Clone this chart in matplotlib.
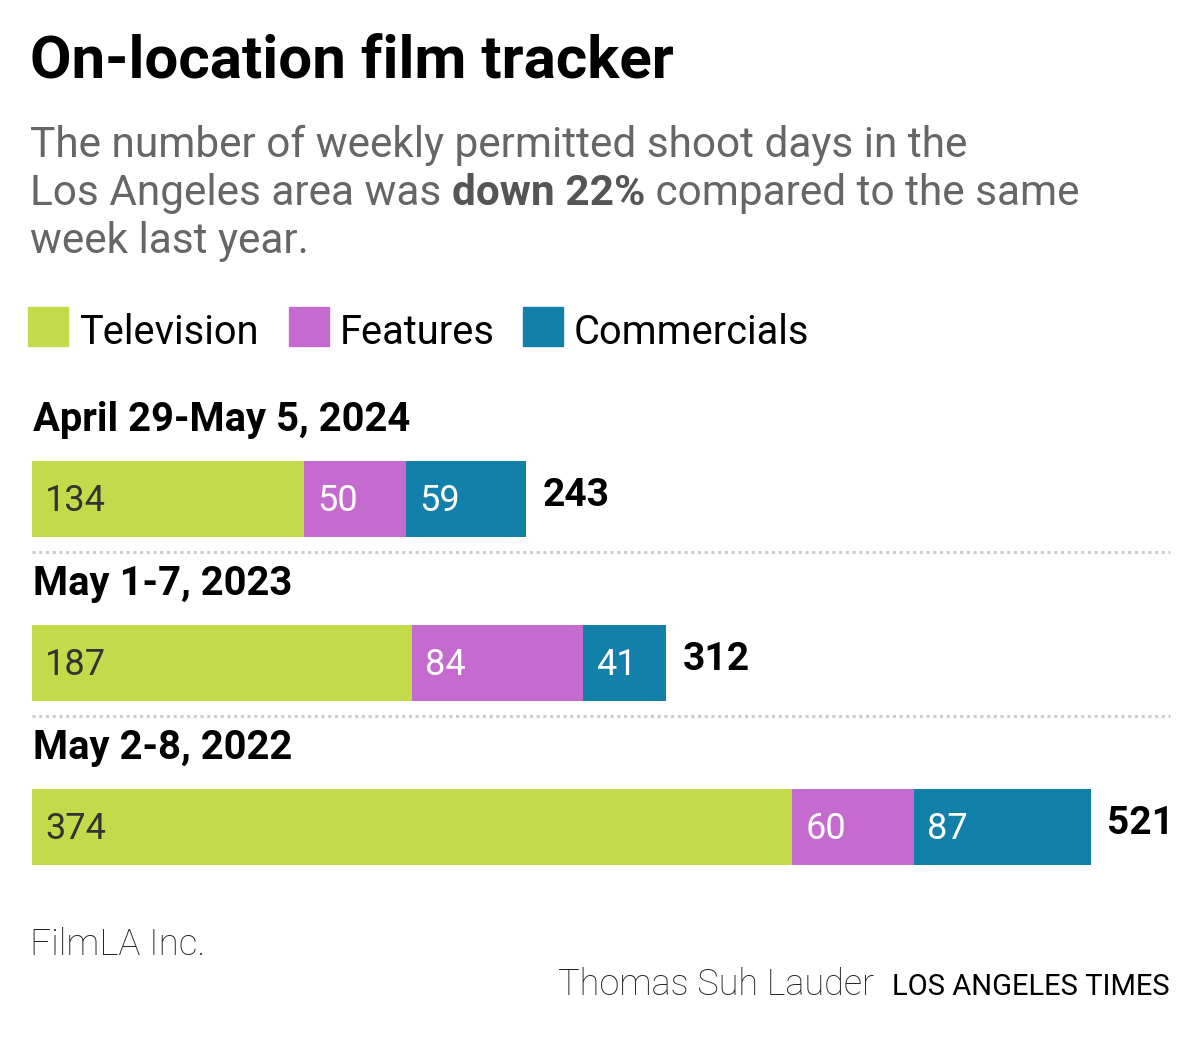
import matplotlib
matplotlib.use("Agg")
import matplotlib.pyplot as plt
from matplotlib import font_manager
from matplotlib.patches import Rectangle

# data
weeks = ["April 29-May 5, 2024", "May 1-7, 2023", "May 2-8, 2022"]
television = [134, 187, 374]
features = [50, 84, 60]
commercials = [59, 41, 87]
totals = [243, 312, 521]

series_names = ["Television", "Features", "Commercials"]
colors = ["#c3db4b", "#c56acf", "#1380aa"]
label_colors = ["#333333", "white", "white"]

W, H = 1200, 1037

names = {f.name for f in font_manager.fontManager.ttflist}
FONT = "Liberation Sans Narrow" if "Liberation Sans Narrow" in names else "Roboto"
plt.rcParams["font.family"] = [FONT, "DejaVu Sans"]

fig = plt.figure(figsize=(W / 100, H / 100), dpi=100)


def fx(px):
    return px / W


def fy(py):
    return 1 - py / H


# header
fig.text(fx(30), fy(77), "On-location film tracker", fontsize=43.3, fontweight="bold",
         color="black", va="baseline")
SUB = 30.5
fig.text(fx(30), fy(157), "The number of weekly permitted shoot days in the",
         fontsize=SUB, color="#666666", va="baseline")
t1 = fig.text(fx(30), fy(205), "Los Angeles area was ", fontsize=SUB, color="#666666",
              va="baseline")
fig.canvas.draw()
r = fig.canvas.get_renderer()
bb = t1.get_window_extent(r)
t2 = fig.text(bb.x1 / W, fy(205), "down 22%", fontsize=SUB, color="#555555",
              fontweight="bold", va="baseline")
bb2 = t2.get_window_extent(r)
fig.text(bb2.x1 / W, fy(205), " compared to the same", fontsize=SUB, color="#666666",
         va="baseline")
fig.text(fx(30), fy(253), "week last year.", fontsize=SUB, color="#666666", va="baseline")

# legend
leg_x = [28, 289, 523]
for lx, name, c in zip(leg_x, series_names, colors):
    fig.patches.append(Rectangle((fx(lx), fy(346)), 40 / W, 39 / H, color=c,
                                 transform=fig.transFigure, figure=fig))
    fig.text(fx(lx + 51), fy(344), name, fontsize=28.7, color="black", va="baseline")

# bars
ax = fig.add_axes([fx(32), fy(909), fx(1091) - fx(32), (909 - 368) / H])
ax.set_xlim(0, 521)
ax.set_ylim(2.5, -0.8)
ax.axis("off")

ys = list(range(len(weeks)))
lefts = [0] * len(weeks)
for vals, c, tc in zip([television, features, commercials], colors, label_colors):
    ax.barh(ys, vals, left=lefts, height=0.465, color=c, linewidth=0)
    for y, v, l in zip(ys, vals, lefts):
        ax.text(l + 6.5, y + 0.01, str(v), fontsize=26, color=tc, va="center", ha="left")
    lefts = [a + b for a, b in zip(lefts, vals)]

for y, t in zip(ys, totals):
    ax.text(t + 8, y - 0.02, str(t), fontsize=28, fontweight="bold", color="black",
            va="center", ha="left", clip_on=False)

for y, w in zip(ys, weeks):
    ax.text(0.5, y - 0.48, w, fontsize=28.8, fontweight="bold", color="black",
            va="center", ha="left")

for y in ys[:-1]:
    ax.plot([0, 560], [y + 0.32, y + 0.32], color="#cccccc", linestyle=(0, (1, 1.2)),
            linewidth=2.2, clip_on=False)

# footer
fig.text(fx(30), fy(955), "FilmLA Inc.", fontsize=26.5, color="#222222", va="baseline",
         fontweight="light")
t3 = fig.text(fx(1170), fy(995), "LOS ANGELES TIMES", fontsize=21, color="black",
              va="baseline", ha="right")
bb3 = t3.get_window_extent(r)
fig.text((bb3.x0 - 18) / W, fy(995), "Thomas Suh Lauder", fontsize=26, color="#222222",
         va="baseline", ha="right", fontweight="light")

fig.savefig("out.png", dpi=100, facecolor="white")
